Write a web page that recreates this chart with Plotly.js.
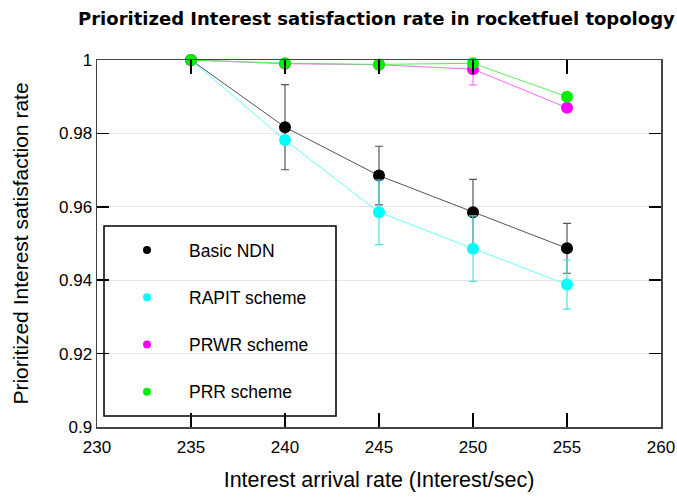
<!DOCTYPE html>
<html>
<head>
<meta charset="utf-8">
<script src="https://cdn.plot.ly/plotly-3.0.1.min.js"></script>
<style>html,body{margin:0;padding:0;background:#fff;}#chart{width:677px;height:499px;}</style>
</head>
<body>
<div id="chart"></div>
<script>
// ---- data ----
const rates = [235, 240, 245, 250, 255];
const basicNDN = [1.0, 0.9817, 0.9685, 0.9585, 0.9487];
const basicErr = [0, 0.0116, 0.0080, 0.0090, 0.0068];
const rapit = [1.0, 0.9782, 0.9585, 0.9486, 0.9388];
const rapitErr = [0, 0, 0.0088, 0.0089, 0.0067];
const prwr = [1.0, 0.9990, 0.9987, 0.9975, 0.9870];
const prwrErr = [0, 0, 0, 0.0043, 0];
const prr = [1.0, 0.9991, 0.9988, 0.9991, 0.9900];
const seriesNames = ['Basic NDN', 'RAPIT scheme', 'PRWR scheme', 'PRR scheme'];
const xTicks = [230, 235, 240, 245, 250, 255, 260];
const yTicks = [0.9, 0.92, 0.94, 0.96, 0.98, 1];
const yTickText = ['0.9', '0.92', '0.94', '0.96', '0.98', '1'];

// ---- styles ----
const markerColors = ['#000000', '#00ffff', '#ff00ff', '#00ee00'];
const lineColors = ['#555555', '#66ffff', '#ff66ff', '#55ee55'];
const errColors = ['#555555', '#55e0e0', '#ff77ff', '#55ee55'];
const ys = [basicNDN, rapit, prwr, prr];
const errs = [basicErr, rapitErr, prwrErr, null];

const traces = [];
ys.forEach((y, i) => {
  const t = {
    x: rates, y: y, type: 'scatter', mode: 'lines+markers',
    name: seriesNames[i], showlegend: false,
    line: {color: lineColors[i], width: 1},
    marker: {color: markerColors[i], size: 12},
    cliponaxis: false
  };
  if (errs[i]) {
    t.error_y = {type: 'data', array: errs[i], visible: true, color: errColors[i], thickness: 1.2, width: 4};
  }
  traces.push(t);
});
// legend-only entries (markers only, as in the reference)
seriesNames.forEach((n, i) => {
  traces.push({
    x: [null], y: [null], type: 'scatter', mode: 'markers', name: n,
    legendgroup: 'g' + i, marker: {color: markerColors[i], size: 8}
  });
});

const L = 97, R = 16, T = 60, B = 72;
const pw = 677 - L - R, ph = 499 - T - B;
const layout = {
  width: 677, height: 499,
  margin: {l: L, r: R, t: T, b: B, pad: 0},
  paper_bgcolor: '#ffffff', plot_bgcolor: '#ffffff',
  font: {family: 'Liberation Sans, Arial, sans-serif', color: '#000'},
  title: {
    text: 'Prioritized Interest satisfaction rate in rocketfuel topology',
    font: {family: 'DejaVu Sans', size: 18, color: '#000', weight: 'bold'},
    x: 0.556, xanchor: 'center', y: 0.962, yanchor: 'middle'
  },
  xaxis: {
    range: [230, 260], tickvals: xTicks, ticktext: xTicks.map(String),
    ticks: 'inside', ticklen: 14, tickwidth: 1.5, tickcolor: '#000',
    showline: true, linecolor: '#444', linewidth: 1.5, mirror: 'ticks',
    showgrid: false, zeroline: false, ticklabelstandoff: 4,
    tickfont: {size: 17, color: '#000'},
    title: {text: 'Interest arrival rate (Interest/sec)', font: {size: 21.5, color: '#000'}, standoff: 16}
  },
  yaxis: {
    range: [0.9, 1.0], tickvals: yTicks, ticktext: yTickText,
    ticks: 'inside', ticklen: 12, tickwidth: 1.5, tickcolor: '#000',
    showline: true, linecolor: '#444', linewidth: 1.5, mirror: 'ticks',
    showgrid: true, gridcolor: '#e6e6e6', gridwidth: 1, zeroline: false,
    tickfont: {size: 17, color: '#000'},
    title: {text: 'Prioritized Interest satisfaction rate', font: {size: 21, color: '#000'}, standoff: 24}
  },
  legend: {
    x: (105 - L) / pw, xanchor: 'left',
    y: 1 - (232 - T) / ph, yanchor: 'top',
    bgcolor: 'rgba(0,0,0,0)', borderwidth: 0,
    font: {size: 17.5, color: '#000'}, tracegroupgap: 21.5, itemwidth: 74
  },
  shapes: [{
    type: 'rect', xref: 'paper', yref: 'paper',
    x0: (104 - L) / pw, x1: (336 - L) / pw,
    y0: 1 - (416 - T) / ph, y1: 1 - (226 - T) / ph,
    line: {color: '#000', width: 1.5}, fillcolor: 'rgba(0,0,0,0)', layer: 'above'
  }]
};
Plotly.newPlot('chart', traces, layout, {displayModeBar: false, staticPlot: true});
</script>
</body>
</html>
